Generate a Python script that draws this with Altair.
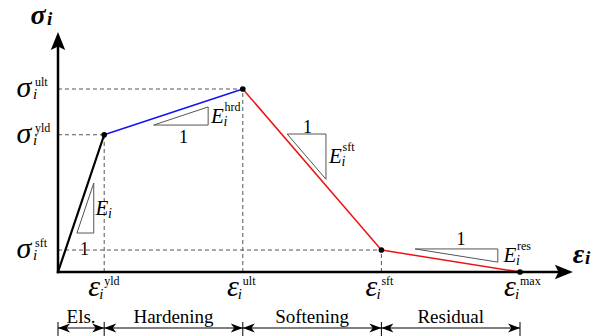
import altair as alt
import pandas as pd

# ---- key points of the piecewise-linear law (data units) ----
eps_keys = [0.0, 1.0, 4.0, 7.0, 10.0]          # 0, yld, ult, sft, max
sig_keys = [0.0, 7.5, 10.0, 1.2, 0.0]
eps_names = ["yld", "ult", "sft", "max"]
sig_names = ["ult", "yld", "sft"]
sig_label_vals = [10.0, 7.5, 1.2]
seg_colors = ["black", "#1414ee", "#ee1414", "#ee1414"]
seg_widths = [2.2, 1.5, 1.5, 1.5]
regions = ["Els.", "Hardening", "Softening", "Residual"]

# slope triangles
tri_x = [[0.41, 0.774, 0.774], [2.07, 3.25, 3.25], [4.96, 5.80, 5.80], [7.73, 9.52, 9.52]]
tri_y = [[2.13, 2.13, 4.86], [8.03, 8.03, 9.02], [7.54, 7.54, 5.07], [1.26, 1.26, 0.54]]
one_x = [0.574, 2.716, 5.400, 8.723]
one_y = [0.929, 7.049, 7.596, 1.475]
E_x = [0.952, 3.452, 6.006, 9.784]
E_y = [3.115, 8.142, 5.956, 0.546]
E_sup = ["", "hrd", "sft", "res"]

# axis extents
y_axis_top = 12.62
x_axis_end = 10.95
band_y = -3.06
tick_top, tick_bot = -2.732, -3.497
region_y = -2.787
sig_name_pos = (-0.433, 13.552, -0.238, 13.497)
eps_name_pos = (11.266, 0.492, 11.407, 0.437)

xs = alt.Scale(domain=[-1.08225, 11.55844], nice=False, zero=False)
ys = alt.Scale(domain=[-3.49727, 14.42623], nice=False, zero=False)
FONT = "'Liberation Serif', 'Times New Roman', serif"
ARROW = "M0,-1 L0.8,1 L0,0.6 L-0.8,1 Z"


def X(f="x"):
    return alt.X(f"{f}:Q", scale=xs, axis=None)


def Y(f="y"):
    return alt.Y(f"{f}:Q", scale=ys, axis=None)


# curve segments
seg = pd.DataFrame({
    "x": eps_keys[:-1], "y": sig_keys[:-1],
    "x2": eps_keys[1:], "y2": sig_keys[1:],
    "c": seg_colors, "w": seg_widths,
})
curve = alt.Chart(seg).mark_rule(strokeCap="round").encode(
    x=X(), y=Y(), x2="x2:Q", y2="y2:Q",
    color=alt.Color("c:N", scale=None),
    strokeWidth=alt.StrokeWidth("w:Q", scale=None),
)

# dashed guides
dash = pd.DataFrame({
    "x": [0, 0, 0, eps_keys[1], eps_keys[2], eps_keys[3]],
    "y": [sig_keys[2], sig_keys[1], sig_keys[3], 0, 0, 0],
    "x2": [eps_keys[2], eps_keys[1], eps_keys[3], eps_keys[1], eps_keys[2], eps_keys[3]],
    "y2": [sig_keys[2], sig_keys[1], sig_keys[3], sig_keys[1], sig_keys[2], sig_keys[3]],
})
guides = alt.Chart(dash).mark_rule(strokeDash=[4, 3], color="#555555", strokeWidth=1).encode(
    x=X(), y=Y(), x2="x2:Q", y2="y2:Q")

# axes
ax = pd.DataFrame({"x": [0, 0], "y": [0, 0], "x2": [0, x_axis_end], "y2": [y_axis_top, 0]})
axes = alt.Chart(ax).mark_rule(color="black", strokeWidth=2.5, strokeCap="square").encode(
    x=X(), y=Y(), x2="x2:Q", y2="y2:Q")
arr = pd.DataFrame({"x": [0, x_axis_end], "y": [y_axis_top, 0], "a": [0, 90]})
arrows = alt.Chart(arr).mark_point(shape=ARROW, filled=True, size=324, color="black",
                                   opacity=1, strokeWidth=0).encode(
    x=X(), y=Y(), angle=alt.Angle("a:Q", scale=None))

# dots
dots_df = pd.DataFrame({"x": eps_keys[1:], "y": sig_keys[1:]})
dots = alt.Chart(dots_df).mark_circle(size=32, color="black", opacity=1).encode(x=X(), y=Y())

# slope triangles
rows = []
for t, (txs, tys) in enumerate(zip(tri_x, tri_y)):
    for k in range(4):
        rows.append({"t": t, "o": k, "x": txs[k % 3], "y": tys[k % 3]})
tri = alt.Chart(pd.DataFrame(rows)).mark_line(color="#555555", strokeWidth=1).encode(
    x=X(), y=Y(), detail="t:N", order="o:Q")

ones = alt.Chart(pd.DataFrame({"x": one_x, "y": one_y})).mark_text(
    text="1", font=FONT, fontSize=18, align="center", baseline="alphabetic").encode(x=X(), y=Y())

Edf = pd.DataFrame({"x": E_x, "y": E_y, "s": E_sup})
E_main = alt.Chart(Edf).mark_text(text="E", font=FONT, fontStyle="italic", fontSize=21,
                                  align="center", baseline="alphabetic").encode(x=X(), y=Y())
E_i = alt.Chart(Edf).mark_text(text="i", font=FONT, fontStyle="italic", fontSize=14,
                               align="left", baseline="alphabetic", dx=6, dy=3).encode(x=X(), y=Y())
E_s = alt.Chart(Edf).mark_text(font=FONT, fontSize=12, align="left", baseline="alphabetic",
                               dx=7, dy=-12).encode(x=X(), y=Y(), text="s:N")

# sigma tick labels
sdf = pd.DataFrame({"x": [0.0] * 3, "y": sig_label_vals, "s": sig_names})
s_main = alt.Chart(sdf).mark_text(text="σ", font=FONT, fontStyle="italic", fontSize=30,
                                  align="center", baseline="alphabetic", dx=-34, dy=8).encode(x=X(), y=Y())
s_i = alt.Chart(sdf).mark_text(text="i", font=FONT, fontStyle="italic", fontSize=15,
                               align="left", baseline="alphabetic", dx=-25, dy=10).encode(x=X(), y=Y())
s_s = alt.Chart(sdf).mark_text(font=FONT, fontSize=12, align="left", baseline="alphabetic",
                               dx=-23, dy=-3).encode(x=X(), y=Y(), text="s:N")

# epsilon tick labels
edf = pd.DataFrame({"x": eps_keys[1:], "y": [0.0] * 4, "s": eps_names})
e_main = alt.Chart(edf).mark_text(text="ε", font=FONT, fontStyle="italic", fontSize=30,
                                  align="center", baseline="alphabetic", dx=-10, dy=24).encode(x=X(), y=Y())
e_i = alt.Chart(edf).mark_text(text="i", font=FONT, fontStyle="italic", fontSize=15,
                               align="left", baseline="alphabetic", dx=-5, dy=27).encode(x=X(), y=Y())
e_s = alt.Chart(edf).mark_text(font=FONT, fontSize=12, align="left", baseline="alphabetic",
                               dx=0, dy=13).encode(x=X(), y=Y(), text="s:N")

# axis names
names_main = pd.DataFrame({"x": [sig_name_pos[0], eps_name_pos[0]], "y": [sig_name_pos[1], eps_name_pos[1]],
                           "t": ["σ", "ε"]})
names_i = pd.DataFrame({"x": [sig_name_pos[2], eps_name_pos[2]], "y": [sig_name_pos[3], eps_name_pos[3]]})
n_main = alt.Chart(names_main).mark_text(font=FONT, fontStyle="italic", fontWeight="bold", fontSize=28,
                                         align="center", baseline="alphabetic").encode(x=X(), y=Y(), text="t:N")
n_i = alt.Chart(names_i).mark_text(text="i", font=FONT, fontStyle="italic", fontWeight="bold", fontSize=19,
                                   align="left", baseline="alphabetic").encode(x=X(), y=Y())

# region bands
band = pd.DataFrame({"x": eps_keys[:-1], "x2": eps_keys[1:], "y": [band_y] * 4,
                     "m": [(a + b) / 2 for a, b in zip(eps_keys[:-1], eps_keys[1:])],
                     "ry": [region_y] * 4, "r": regions})
band_lines = alt.Chart(band).mark_rule(color="black", strokeWidth=1.2).encode(x=X(), x2="x2:Q", y=Y())
ticks = alt.Chart(pd.DataFrame({"x": eps_keys, "y": [tick_top] * 5, "y2": [tick_bot] * 5})).mark_rule(
    color="black", strokeWidth=1).encode(x=X(), y=Y(), y2="y2:Q")
SMALL = "M0,-1 L0.75,1 L0,0.45 L-0.75,1 Z"
head_l = alt.Chart(band).mark_point(shape=SMALL, filled=True, size=144, color="black", opacity=1,
                                    strokeWidth=0, angle=270, xOffset=6).encode(x=X(), y=Y())
head_r = alt.Chart(band).mark_point(shape=SMALL, filled=True, size=144, color="black", opacity=1,
                                    strokeWidth=0, angle=90, xOffset=-6).encode(x=X("x2"), y=Y())
region_txt = alt.Chart(band).mark_text(font=FONT, fontSize=19, align="center", baseline="alphabetic").encode(
    x=X("m"), y=Y("ry"), text="r:N")

chart = alt.layer(
    guides, tri, curve, axes, arrows, dots, ones, E_main, E_i, E_s,
    s_main, s_i, s_s, e_main, e_i, e_s, n_main, n_i,
    band_lines, ticks, head_l, head_r, region_txt,
).properties(width=584, height=328, padding=0, autosize="none", background="white").configure_view(stroke=None)

chart.save("out.html", embed_options={"renderer": "svg", "actions": False})
